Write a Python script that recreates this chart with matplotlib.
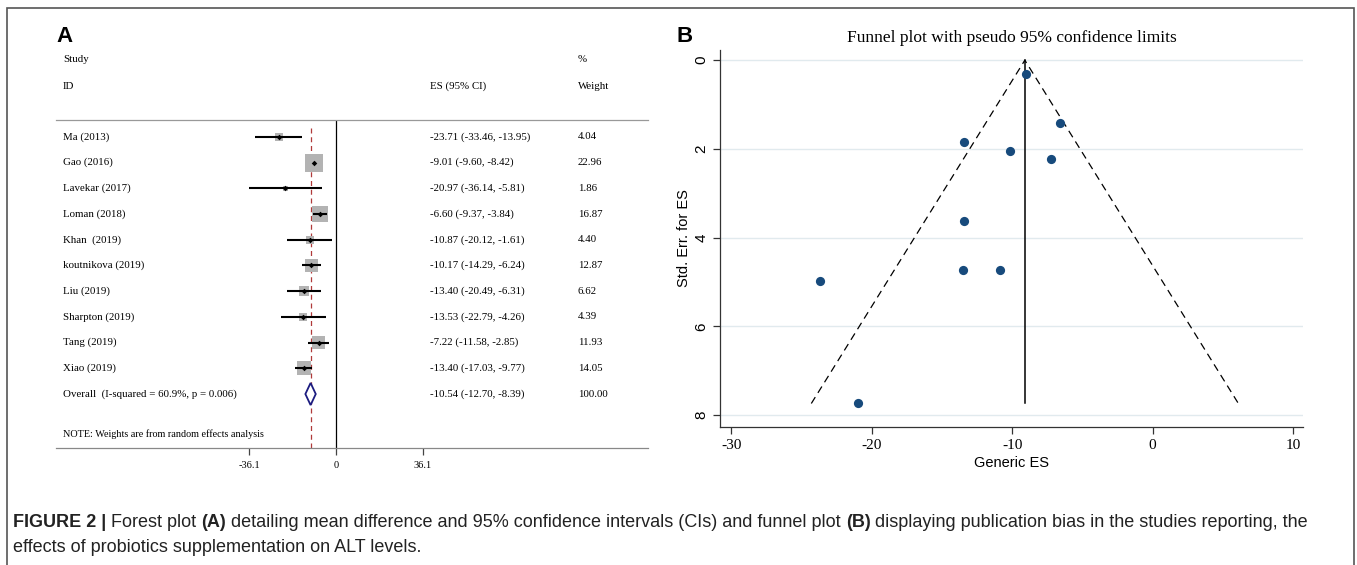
import matplotlib
matplotlib.use("Agg")
import matplotlib.pyplot as plt
from matplotlib.patches import Rectangle

plt.rcParams["axes.unicode_minus"] = False

# ---- data ----
studies = ["Ma (2013)", "Gao (2016)", "Lavekar (2017)", "Loman (2018)", "Khan  (2019)",
           "koutnikova (2019)", "Liu (2019)", "Sharpton (2019)", "Tang (2019)", "Xiao (2019)"]
es = [-23.71, -9.01, -20.97, -6.60, -10.87, -10.17, -13.40, -13.53, -7.22, -13.40]
lo = [-33.46, -9.60, -36.14, -9.37, -20.12, -14.29, -20.49, -22.79, -11.58, -17.03]
hi = [-13.95, -8.42, -5.81, -3.84, -1.61, -6.24, -6.31, -4.26, -2.85, -9.77]
weight = [4.04, 22.96, 1.86, 16.87, 4.40, 12.87, 6.62, 4.39, 11.93, 14.05]
overall = (-10.54, -12.70, -8.39)
overall_label = "Overall  (I-squared = 60.9%, p = 0.006)"
forest_ticks = [-36.1, 0, 36.1]

se = [4.98, 0.30, 7.74, 1.41, 4.72, 2.05, 3.62, 4.73, 2.23, 1.85]
pooled_fixed = -9.1
funnel_x = [-24.3, -9.1, 6.1]
funnel_se = [7.74, 0.0, 7.74]

caption1 = [("FIGURE 2 |", "bold"), (" Forest plot ", "normal"), ("(A)", "bold"),
            (" detailing mean difference and 95% confidence intervals (CIs) and funnel plot ", "normal"),
            ("(B)", "bold"), (" displaying publication bias in the studies reporting, the", "normal")]
caption2 = "effects of probiotics supplementation on ALT levels."

W, H = 1357, 565
SERIF = ["Liberation Serif", "DejaVu Serif"]
SANS = ["Liberation Sans", "DejaVu Sans"]


def rect(x0, y0, x1, y1):
    return [x0 / W, 1 - y1 / H, (x1 - x0) / W, (y1 - y0) / H]


fig = plt.figure(figsize=(W / 100, H / 100), dpi=100)
fig.patches.append(Rectangle((7 / W, -0.05), (1354 - 7) / W, 1.05 - 8 / H, transform=fig.transFigure,
                             fill=False, ec="#555555", lw=1.2))

# ---- A: forest plot ----
ax = fig.add_axes(rect(56, 120, 648, 448))
rows = list(range(len(studies)))
ax.set_xlim(-116.2, 129.5)
ax.set_ylim(12.1, -0.66)
for s in ["left", "right"]:
    ax.spines[s].set_visible(False)
ax.spines["top"].set_color("#999999")
ax.spines["bottom"].set_color("#888888")
ax.spines["top"].set_linewidth(0.9)
ax.spines["bottom"].set_linewidth(0.9)
ax.set_yticks([])
ax.set_xticks(forest_ticks)
ax.set_xticklabels(["-36.1", "0", "36.1"], family=SERIF, fontsize=7.5)
ax.tick_params(axis="x", length=5, width=0.9, color="#444444", pad=4)

ax.axvline(0, color="black", lw=0.9)
ax.axvline(overall[0], color="#b03a3a", lw=0.9, ls=(0, (4, 3)), ymax=0.985)

ax.scatter(es, rows, s=[7.36 * w for w in weight], marker="s", color="#b3b3b3", zorder=2, lw=0)
ax.hlines(rows, lo, hi, color="black", lw=1.5, zorder=3)
ax.scatter(es, rows, s=8, marker="D", color="black", zorder=4, lw=0)

oy = len(studies)
ax.fill([overall[1], overall[0], overall[2], overall[0]], [oy, oy - 0.43, oy, oy + 0.43],
        fc="white", ec="#1c1c80", lw=1.3, zorder=4)

tr = ax.get_yaxis_transform()
fs = 7.8
lab_x, es_x, w_x = 7 / 592, 374 / 592, 522 / 592
ax.text(lab_x, -3.0, "Study", transform=tr, family=SERIF, fontsize=fs, va="center")
ax.text(lab_x, -1.98, "ID", transform=tr, family=SERIF, fontsize=fs, va="center")
ax.text(es_x, -1.98, "ES (95% CI)", transform=tr, family=SERIF, fontsize=fs, va="center")
ax.text(w_x, -3.0, "%", transform=tr, family=SERIF, fontsize=fs, va="center")
ax.text(w_x, -1.98, "Weight", transform=tr, family=SERIF, fontsize=fs, va="center")
for i, name in enumerate(studies):
    ax.text(lab_x, i, name, transform=tr, family=SERIF, fontsize=fs, va="center")
    ax.text(es_x, i, f"{es[i]:.2f} ({lo[i]:.2f}, {hi[i]:.2f})", transform=tr, family=SERIF,
            fontsize=fs, va="center")
    ax.text(w_x, i, f"{weight[i]:.2f}", transform=tr, family=SERIF, fontsize=fs, va="center")
ax.text(lab_x, oy, overall_label, transform=tr, family=SERIF, fontsize=fs, va="center")
ax.text(es_x, oy, f"{overall[0]:.2f} ({overall[1]:.2f}, {overall[2]:.2f})", transform=tr,
        family=SERIF, fontsize=fs, va="center")
ax.text(w_x, oy, "100.00", transform=tr, family=SERIF, fontsize=fs, va="center")
ax.text(lab_x, 11.56, "NOTE: Weights are from random effects analysis", transform=tr,
        family=SERIF, fontsize=7.3, va="center")

fig.text(56 / W, 1 - 36 / H, "A", family=SANS, fontsize=16, weight="bold", va="center")
fig.text(676 / W, 1 - 36 / H, "B", family=SANS, fontsize=16, weight="bold", va="center")

# ---- B: funnel plot ----
bx = fig.add_axes(rect(720, 50, 1303, 427))
bx.set_xlim(-30.8, 10.7)
bx.set_ylim(8.27, -0.23)
bx.spines["top"].set_visible(False)
bx.spines["right"].set_visible(False)
for s in ["left", "bottom"]:
    bx.spines[s].set_color("#333333")
    bx.spines[s].set_linewidth(0.9)
bx.set_yticks([0, 2, 4, 6, 8])
bx.set_xticks([-30, -20, -10, 0, 10])
bx.yaxis.grid(True, color="#e1eaee", lw=1.0)
bx.set_axisbelow(True)
bx.tick_params(axis="both", length=5, width=0.9, color="#333333")
for t in bx.get_yticklabels():
    t.set_family(SANS)
    t.set_fontsize(11)
    t.set_rotation(90)
    t.set_va("center")
for t in bx.get_xticklabels():
    t.set_family(SERIF)
    t.set_fontsize(11)

bx.plot(funnel_x, funnel_se, color="black", lw=0.9, ls=(0, (6, 4)))
bx.plot([pooled_fixed, pooled_fixed], [0, funnel_se[0]], color="black", lw=1.1)
bx.scatter(es, se, s=44, color="#174a7c", zorder=3, lw=0)

bx.set_title("Funnel plot with pseudo 95% confidence limits", family=SERIF, fontsize=12.5, pad=6)
bx.set_xlabel("Generic ES", family=SANS, fontsize=10.5, labelpad=3)
bx.set_ylabel("Std. Err. for ES", family=SANS, fontsize=10.5, labelpad=2)

# ---- caption: pieces laid one after another on a shared baseline ----
renderer = fig.canvas.get_renderer()
cap_fs = 13
x = 13
for txt, wt in caption1:
    t = fig.text(x / W, 1 - 527 / H, txt, family=SANS, fontsize=cap_fs, weight=wt,
                 color="#222222", va="baseline", ha="left")
    x = t.get_window_extent(renderer).x1
fig.text(13 / W, 1 - 552 / H, caption2, family=SANS, fontsize=cap_fs, color="#222222",
         va="baseline")

fig.savefig("out.png", dpi=100)
